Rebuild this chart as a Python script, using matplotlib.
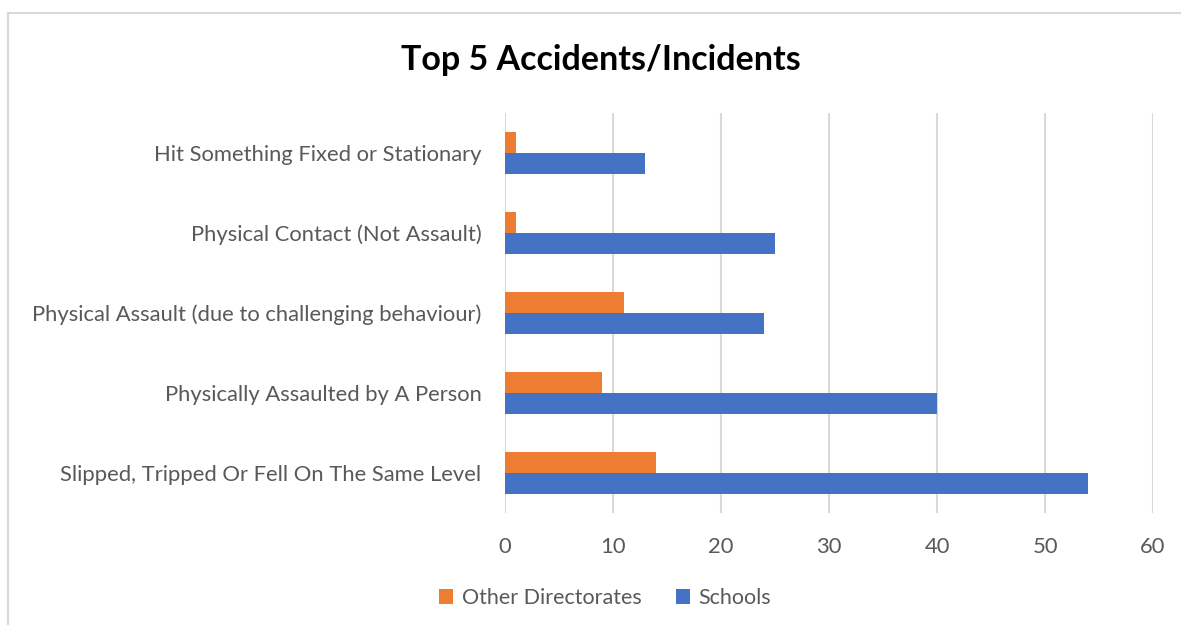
import matplotlib.pyplot as plt
import numpy as np
from matplotlib.patches import Rectangle

# Data (bottom to top as drawn)
categories = ["Slipped, Tripped Or Fell On The Same Level",
              "Physically Assaulted by A Person",
              "Physical Assault (due to challenging behaviour)",
              "Physical Contact (Not Assault)",
              "Hit Something Fixed or Stationary"]
schools = [54, 40, 24, 25, 13]
other_directorates = [14, 9, 11, 1, 1]
x_ticks = [0, 10, 20, 30, 40, 50, 60]

blue = "#4472C4"
orange = "#ED7D31"
text_grey = "#595959"

plt.rcParams['font.family'] = ['Lato', 'DejaVu Sans']

W, H = 1181, 625
fig = plt.figure(figsize=(W / 100, H / 100), dpi=100)
ax = fig.add_axes([505 / W, 1 - 513 / H, (1153 - 505) / W, 400 / H])

y = np.arange(len(categories))
h = 0.26
ax.barh(y - h / 2, schools, height=h, color=blue, label="Schools", zorder=3)
ax.barh(y + h / 2, other_directorates, height=h, color=orange,
        label="Other Directorates", zorder=3)

ax.set_xlim(0, 60)
ax.set_ylim(-0.5, len(categories) - 0.5)
ax.set_xticks(x_ticks)
ax.set_yticks(y)
ax.set_yticklabels(categories)
ax.tick_params(axis='both', length=0, labelsize=15.8, colors=text_grey)
ax.tick_params(axis='x', pad=17)
ax.tick_params(axis='y', pad=17)
ax.grid(axis='x', color="#D9D9D9", linewidth=1.5, zorder=0)
for s in ax.spines.values():
    s.set_visible(False)

fig.text(601 / W, 1 - 60 / H, "Top 5 Accidents/Incidents", ha='center', va='center',
         fontsize=24.5, fontweight='bold', color='black')

handles, labels = ax.get_legend_handles_labels()
fig.legend(handles[::-1], labels[::-1], loc='center', bbox_to_anchor=(605 / W, 1 - 598 / H),
           ncol=2, frameon=False, fontsize=15.5, labelcolor=text_grey,
           handlelength=0.65, handleheight=0.65, handletextpad=0.4, columnspacing=1.6)

fig.patches.append(Rectangle((8 / W, -0.05), 1.2, 1.05 - 13 / H, transform=fig.transFigure,
                             fill=False, edgecolor="#D9D9D9", linewidth=1.5))

fig.savefig("out.png", dpi=100)
